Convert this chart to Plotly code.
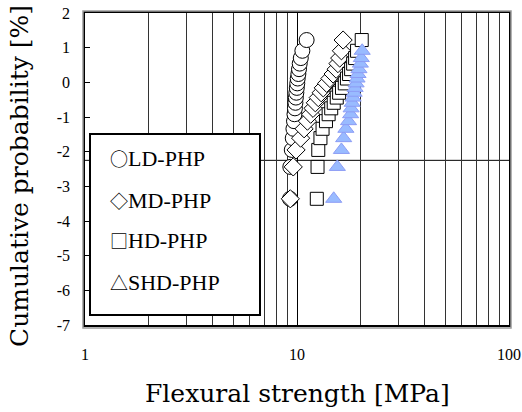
import plotly.graph_objects as go

# Cumulative probability (Weibull plot ordinate) for ranked specimens
prob_y = [-3.36, -2.44, -1.95, -1.61, -1.34, -1.12, -0.92, -0.75, -0.59, -0.44,
          -0.30, -0.16, -0.03, 0.11, 0.24, 0.38, 0.54, 0.70, 0.91, 1.22]

ld_x = [9.27, 9.30, 9.45, 9.55, 9.62, 9.68, 9.73, 9.78, 9.83, 9.88,
        9.93, 9.98, 10.03, 10.08, 10.15, 10.22, 10.30, 10.42, 10.60, 11.10]
md_x = [9.30, 9.60, 9.90, 10.4, 10.8, 11.2, 11.6, 11.9, 12.2, 12.6,
        13.0, 13.3, 13.8, 14.3, 14.8, 15.3, 15.6, 15.9, 16.2, 16.5]
hd_x = [12.4, 12.5, 12.6, 12.9, 13.2, 13.7, 14.1, 14.5, 14.9, 15.4,
        15.8, 16.3, 16.8, 17.2, 17.6, 18.0, 18.4, 18.8, 19.2, 20.2]
shd_x = [14.9, 15.5, 16.2, 16.6, 17.0, 17.5, 17.9, 18.0, 18.2, 18.4,
         18.6, 18.8, 19.0, 19.2, 19.4, 19.6, 19.9, 20.1, 20.3]
shd_y = prob_y[:19]

legend_symbols = ["○", "◇", "□", "△"]
legend_names = ["LD-PHP", "MD-PHP", "HD-PHP", "SHD-PHP"]
ref_line_y = -2.25
y_ticks = [-7, -6, -5, -4, -3, -2, -1, 0, 1, 2]
y_ticktext = ["-7", "-6", "-5", "-4", "-3", "-2", "-1", "0", "1", "2"]
x_ticks = [1, 10, 100]
x_ticktext = ["1", "10", "100"]
x_minor = [2, 3, 4, 5, 6, 7, 8, 9, 20, 30, 40, 50, 60, 70, 80, 90]

FONT = "Liberation Serif"
TITLEFONT = "DejaVu Serif"
SYMFONT = "Noto Sans CJK JP"

fig = go.Figure()
fig.add_trace(go.Scatter(x=ld_x, y=prob_y, mode="markers", name="LD-PHP",
                         marker=dict(symbol="circle", size=15, color="white",
                                     line=dict(color="black", width=1))))
fig.add_trace(go.Scatter(x=md_x, y=prob_y, mode="markers", name="MD-PHP",
                         marker=dict(symbol="diamond", size=14, color="white",
                                     line=dict(color="black", width=1))))
fig.add_trace(go.Scatter(x=hd_x, y=prob_y, mode="markers", name="HD-PHP",
                         marker=dict(symbol="square", size=13, color="white",
                                     line=dict(color="black", width=1))))
fig.add_trace(go.Scatter(x=shd_x, y=shd_y, mode="markers", name="SHD-PHP",
                         marker=dict(symbol="triangle-up", size=14, color="#99BBFF",
                                     line=dict(color="#8C9CF5", width=1))))

W, H = 522, 412
L, R, T, B = 85, 13, 13, 87
pw, ph = W - L - R, H - T - B

def px_x(p):
    return (p - L) / pw

def px_y(p):
    return (H - B - p) / ph

shapes = [
    dict(type="line", xref="paper", yref="y", x0=0, x1=1, y0=ref_line_y, y1=ref_line_y,
         line=dict(color="black", width=1), layer="below"),
    dict(type="rect", xref="paper", yref="paper", x0=px_x(90), x1=px_x(260),
         y0=px_y(315), y1=px_y(134), fillcolor="white",
         line=dict(color="black", width=2), layer="above"),
    dict(type="rect", xref="paper", yref="paper", x0=px_x(83), x1=px_x(511),
         y0=px_y(328), y1=px_y(11), line=dict(color="#999999", width=1.5), layer="above"),
]

annotations = []
for sym, name, ypx in zip(legend_symbols, legend_names, [158, 200, 240, 282]):
    txt = f'<span style="font-family:{SYMFONT};font-size:18px">{sym}</span>{name}'
    annotations.append(dict(text=txt, xref="paper", yref="paper", x=px_x(108), y=px_y(ypx),
                            xanchor="left", yanchor="middle", showarrow=False,
                            font=dict(family=FONT, size=22, color="black")))
annotations.append(dict(text="Flexural strength [MPa]", xref="paper", yref="paper",
                        x=px_x(297), y=px_y(393), xanchor="center", yanchor="middle",
                        showarrow=False, font=dict(family=TITLEFONT, size=25, color="black")))
annotations.append(dict(text="Cumulative probability [%]", xref="paper", yref="paper",
                        x=px_x(20), y=px_y(176), xanchor="center", yanchor="middle",
                        textangle=-90, showarrow=False,
                        font=dict(family=TITLEFONT, size=25, color="black")))

fig.update_layout(
    width=W, height=H,
    margin=dict(l=L, r=R, t=T, b=B, autoexpand=False),
    paper_bgcolor="white", plot_bgcolor="white",
    showlegend=False,
    font=dict(family=FONT, size=16, color="black"),
    shapes=shapes, annotations=annotations,
    xaxis=dict(type="log", range=[0, 2], tickvals=x_ticks, ticktext=x_ticktext,
               showgrid=True, gridcolor="black", gridwidth=1,
               minor=dict(tickvals=x_minor, showgrid=True, gridcolor="#333333", gridwidth=1),
               showline=True, linecolor="black", linewidth=1.5, mirror=True,
               ticks="", ticklabelstandoff=14, zeroline=False,
               tickfont=dict(family=FONT, size=16)),
    yaxis=dict(range=[-7, 2], tickvals=y_ticks, ticktext=y_ticktext,
               showgrid=False, zeroline=False,
               showline=True, linecolor="black", linewidth=1.5, mirror=True,
               ticks="inside", ticklen=5, tickcolor="black",
               ticklabelstandoff=10, tickfont=dict(family=FONT, size=16)),
)

fig.write_html("out.html", config={"displayModeBar": False},
               post_script="document.body.style.margin='0';document.body.style.padding='0';")
